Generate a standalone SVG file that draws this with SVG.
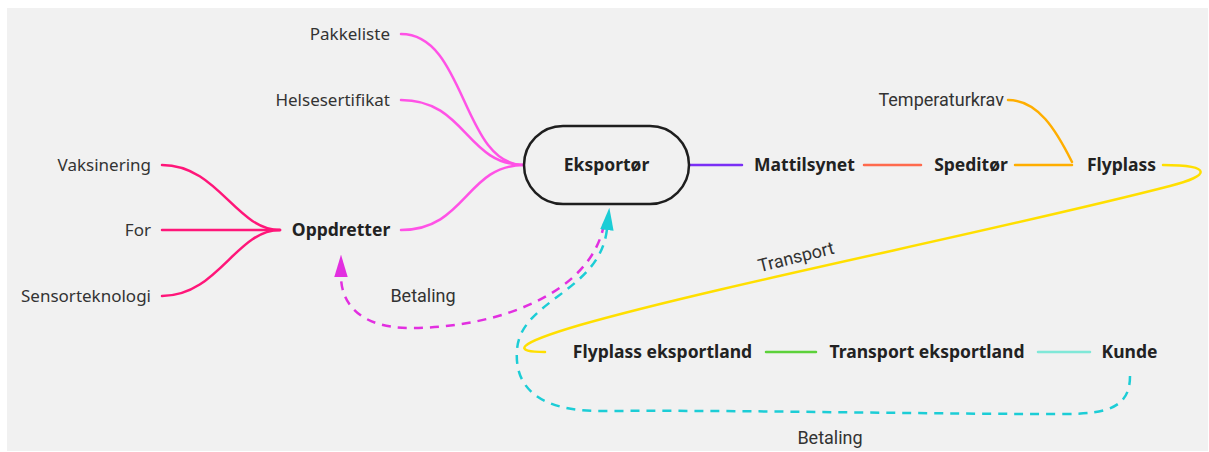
<svg xmlns="http://www.w3.org/2000/svg" width="1209" height="452" viewBox="0 0 1209 452">
  <style>
    .lbl { font-family: "Noto Sans", "Open Sans", sans-serif; font-size: 17px; fill: #333333; }
    .bold { font-weight: bold; font-size: 17.5px; fill: #222222; }
    .elbl { font-family: Roboto, "Liberation Sans", sans-serif; font-size: 18px; fill: #333333; }
    .line { fill: none; stroke-width: 2.5; stroke-linecap: round; }
    .dash { fill: none; stroke-width: 2.5; stroke-dasharray: 9 7; }
  </style>
  <defs>
    <marker id="arrow-magenta" viewBox="0 0 10 10" refX="0.5" refY="5" markerWidth="9" markerHeight="9" orient="auto" markerUnits="strokeWidth">
      <path d="M0,2 L10,5 L0,8 z" fill="#e22fe0"/>
    </marker>
    <marker id="arrow-cyan" viewBox="0 0 10 10" refX="0.5" refY="5" markerWidth="9" markerHeight="9" orient="auto" markerUnits="strokeWidth">
      <path d="M0,2 L10,5 L0,8 z" fill="#1ccdd6"/>
    </marker>
  </defs>

  <!-- canvas -->
  <rect x="7" y="8" width="1201" height="443" fill="#f1f1f1"/>

  <!-- connectors -->
  <g id="connectors">
    <!-- branches into Eksportør -->
    <path class="line" stroke="#ff52e6" d="M401,34 C466,34 462,165 524,165"/>
    <path class="line" stroke="#ff52e6" d="M401,100 C466,100 466,165 524,165"/>
    <path class="line" stroke="#ff52e6" d="M401,230 C466,230 466,165 524,165"/>
    <!-- branches into Oppdretter -->
    <path class="line" stroke="#ff1679" d="M162,165 C218,165 236,230 280,230"/>
    <path class="line" stroke="#ff1679" d="M162,230 L280,230"/>
    <path class="line" stroke="#ff1679" d="M162,296 C218,296 236,230 280,230"/>
    <!-- chain to the right -->
    <path class="line" stroke="#7a2ff5" d="M690,165 L742,165"/>
    <path class="line" stroke="#ff6a4d" d="M864,165 L921,165"/>
    <path class="line" stroke="#ffae00" d="M1015,165 L1072,165"/>
    <path class="line" stroke="#ffae00" d="M1008,100 C1038,100 1056,130 1072,162"/>
    <!-- Transport loop -->
    <path class="line" stroke="#ffdf00" d="M1163,165 C1214,165 1210,176 1170,186 C1000,230 720,285 580,325 C512,345 514,352 545,352"/>
    <path class="line" stroke="#5cd13a" d="M766,352 L816,352"/>
    <path class="line" stroke="#80e8d8" d="M1038,352 L1090,352"/>
    <!-- payments -->
    <path class="dash" stroke="#e22fe0" marker-end="url(#arrow-magenta)" d="M604,224 C592,292 500,328 410,328 C362,328 341,305 341,276"/>
    <path class="dash" stroke="#1ccdd6" marker-end="url(#arrow-cyan)" d="M1130,376 C1130,406 1110,414 1065,414 C900,414 760,410 600,411 C540,411 514,388 517,350 C520,300 600,292 607,229"/>
  </g>

  <g id="node-pakkeliste"><text class="lbl" x="390" y="40" text-anchor="end">Pakkeliste</text></g>
  <g id="node-helsesertifikat"><text class="lbl" x="390" y="106" text-anchor="end">Helsesertifikat</text></g>
  <g id="node-vaksinering"><text class="lbl" x="151" y="171" text-anchor="end">Vaksinering</text></g>
  <g id="node-for"><text class="lbl" x="151" y="236" text-anchor="end">For</text></g>
  <g id="node-sensorteknologi"><text class="lbl" x="151" y="302" text-anchor="end">Sensorteknologi</text></g>
  <g id="node-oppdretter"><text class="lbl bold" x="341" y="236" text-anchor="middle">Oppdretter</text></g>

  <g id="node-eksportor">
    <rect x="524" y="126" width="165" height="78" rx="39" fill="#f1f1f1" stroke="#1e1e1e" stroke-width="2.5"/>
    <text class="lbl bold" x="606.5" y="171" text-anchor="middle">Eksportør</text>
  </g>

  <g id="node-mattilsynet"><text class="lbl bold" x="804.5" y="171" text-anchor="middle">Mattilsynet</text></g>
  <g id="node-speditor"><text class="lbl bold" x="971" y="171" text-anchor="middle">Speditør</text></g>
  <g id="node-flyplass"><text class="lbl bold" x="1121.5" y="171" text-anchor="middle">Flyplass</text></g>
  <g id="node-temperaturkrav"><text class="elbl" x="1004" y="106" text-anchor="end">Temperaturkrav</text></g>

  <g id="node-flyplass-eksportland"><text class="lbl bold" x="662.5" y="358" text-anchor="middle">Flyplass eksportland</text></g>
  <g id="node-transport-eksportland"><text class="lbl bold" x="927" y="358" text-anchor="middle">Transport eksportland</text></g>
  <g id="node-kunde"><text class="lbl bold" x="1129.5" y="358" text-anchor="middle">Kunde</text></g>

  <!-- edge labels -->
  <g id="edge-labels">
    <text class="elbl" x="423" y="302" text-anchor="middle">Betaling</text>
    <text class="elbl" x="796" y="263" text-anchor="middle" transform="rotate(-14 796 257)">Transport</text>
    <text class="elbl" x="830" y="444" text-anchor="middle">Betaling</text>
  </g>
</svg>
